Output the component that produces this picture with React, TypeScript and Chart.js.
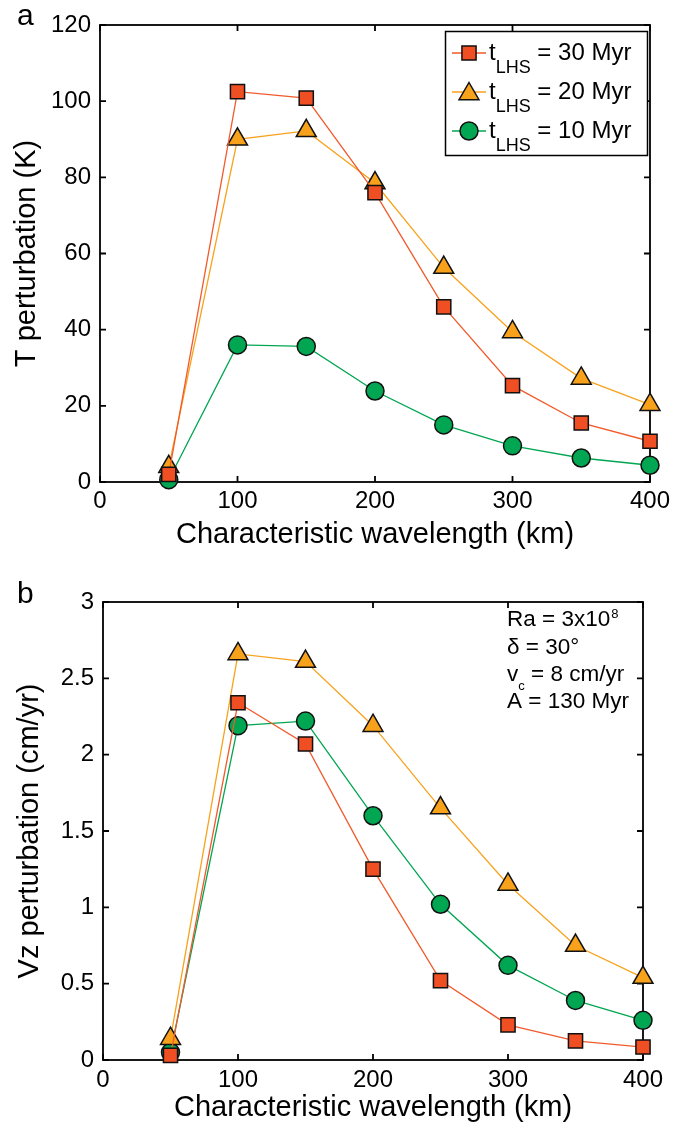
import React, { useEffect, useRef } from 'react';
import { Chart, registerables } from 'chart.js';

Chart.register(...registerables);

// ---------- data ----------
const wavelengthKm = [50, 100, 150, 200, 250, 300, 350, 400];

const tPert30 = [2, 102.5, 100.8, 76, 46, 25.3, 15.5, 10.7];
const tPert20 = [4, 90, 92.2, 78.5, 56.3, 39.4, 27.2, 20.3];
const tPert10 = [0.6, 36, 35.6, 23.9, 15, 9.5, 6.3, 4.4];

const vzPert30 = [0.03, 2.34, 2.07, 1.25, 0.52, 0.23, 0.125, 0.085];
const vzPert20 = [0.14, 2.66, 2.61, 2.19, 1.65, 1.15, 0.75, 0.54];
const vzPert10 = [0.05, 2.19, 2.22, 1.6, 1.02, 0.62, 0.39, 0.26];

const xTicks = [0, 100, 200, 300, 400];
const tempTicks = [0, 20, 40, 60, 80, 100, 120];
const vzTicks = [0, 0.5, 1, 1.5, 2, 2.5, 3];

const seriesAges = ['30 Myr', '20 Myr', '10 Myr'];
const xTitle = 'Characteristic wavelength (km)';
const tempTitle = 'T perturbation (K)';
const vzTitle = 'Vz perturbation (cm/yr)';

// ---------- styles ----------
const FONT = "'Liberation Sans', Arial, Helvetica, sans-serif";
const RED = '#F04E23';
const RED_LINE = '#F15A2B';
const ORANGE = '#F8A21C';
const GREEN = '#00A651';
const fills = [RED, ORANGE, GREEN];
const lineColors = [RED_LINE, ORANGE, GREEN];
const styles = ['rect', 'triangle', 'circle'];
const radii = [10, 11.5, 9];

function drawMarker(ctx: CanvasRenderingContext2D, style: string, x: number, y: number, fill: string) {
  ctx.save();
  ctx.fillStyle = fill;
  ctx.strokeStyle = '#111';
  ctx.lineWidth = 1.5;
  ctx.beginPath();
  if (style === 'rect') {
    const s = 10 * Math.SQRT1_2;
    ctx.rect(x - s, y - s, 2 * s, 2 * s);
  } else if (style === 'triangle') {
    const r = 11.5;
    ctx.moveTo(x, y - r);
    ctx.lineTo(x + 0.866 * r, y + r / 2);
    ctx.lineTo(x - 0.866 * r, y + r / 2);
    ctx.closePath();
  } else {
    ctx.arc(x, y, 9, 0, Math.PI * 2);
  }
  ctx.fill();
  ctx.stroke();
  ctx.restore();
}

const framePlugin = {
  id: 'frame',
  beforeDatasetsDraw(chart: any) {
    const { ctx, chartArea } = chart;
    const { left, right, top, bottom } = chartArea;
    const x = chart.scales.x;
    const y = chart.scales.y;
    ctx.save();
    ctx.strokeStyle = '#000';
    ctx.lineWidth = 1.8;
    ctx.strokeRect(left, top, right - left, bottom - top);
    ctx.beginPath();
    x.ticks.forEach((t: any) => {
      const px = x.getPixelForValue(t.value);
      ctx.moveTo(px, bottom);
      ctx.lineTo(px, bottom - 6);
      ctx.moveTo(px, top);
      ctx.lineTo(px, top + 6);
    });
    y.ticks.forEach((t: any) => {
      const py = y.getPixelForValue(t.value);
      ctx.moveTo(left, py);
      ctx.lineTo(left + 6, py);
      ctx.moveTo(right, py);
      ctx.lineTo(right - 6, py);
    });
    ctx.stroke();
    ctx.restore();
  },
};

function panelLabelPlugin(letter: string, baseline: number) {
  return {
    id: 'panelLabel' + letter,
    afterDraw(chart: any) {
      const ctx = chart.ctx;
      ctx.save();
      ctx.fillStyle = '#000';
      ctx.font = `30px ${FONT}`;
      ctx.textBaseline = 'alphabetic';
      ctx.textAlign = 'left';
      ctx.fillText(letter, 17, baseline);
      ctx.restore();
    },
  };
}

const legendPlugin = {
  id: 'customLegend',
  afterDraw(chart: any) {
    const ctx = chart.ctx as CanvasRenderingContext2D;
    ctx.save();
    ctx.fillStyle = '#fff';
    ctx.fillRect(445, 31, 203, 125);
    ctx.strokeStyle = '#000';
    ctx.lineWidth = 1.5;
    ctx.strokeRect(445.5, 31.5, 202, 124);
    seriesAges.forEach((age, i) => {
      const cy = 53 + i * 39;
      ctx.strokeStyle = lineColors[i];
      ctx.lineWidth = 1.3;
      ctx.beginPath();
      ctx.moveTo(452, cy);
      ctx.lineTo(486, cy);
      ctx.stroke();
      drawMarker(ctx, styles[i], 469, i === 1 ? cy + 2 : cy, fills[i]);
      ctx.fillStyle = '#000';
      ctx.textBaseline = 'alphabetic';
      ctx.textAlign = 'left';
      ctx.font = `24px ${FONT}`;
      const x0 = 489;
      ctx.fillText('t', x0, cy + 7);
      const w1 = ctx.measureText('t').width;
      ctx.font = `18px ${FONT}`;
      ctx.fillText('LHS', x0 + w1, cy + 20);
      const w2 = ctx.measureText('LHS').width;
      ctx.font = `24px ${FONT}`;
      ctx.fillText(' = ' + age, x0 + w1 + w2, cy + 7);
    });
    ctx.restore();
  },
};

const annotationPlugin = {
  id: 'params',
  afterDraw(chart: any) {
    const ctx = chart.ctx as CanvasRenderingContext2D;
    ctx.save();
    ctx.fillStyle = '#000';
    ctx.textBaseline = 'alphabetic';
    ctx.textAlign = 'left';
    const x0 = 507;
    const big = `22.5px ${FONT}`;
    const small = `13px ${FONT}`;
    // Ra = 3x10^8
    ctx.font = big;
    ctx.fillText('Ra = 3x10', x0, 60);
    let w = ctx.measureText('Ra = 3x10').width;
    ctx.font = small;
    ctx.fillText('8', x0 + w + 1, 52);
    // delta
    ctx.font = big;
    ctx.fillText('δ = 30°', x0, 88);
    // v_c
    ctx.fillText('v', x0, 115);
    w = ctx.measureText('v').width;
    ctx.font = small;
    ctx.fillText('c', x0 + w, 124);
    const w2 = ctx.measureText('c').width;
    ctx.font = big;
    ctx.fillText(' = 8 cm/yr', x0 + w + w2, 115);
    // A
    ctx.fillText('A = 130 Myr', x0, 142);
    ctx.restore();
  },
};

function makeConfig(opts: {
  s30: number[];
  s20: number[];
  s10: number[];
  yTicks: number[];
  yTitle: string;
  padding: { left: number; right: number; top: number; bottom: number };
  xAxisHeight: number;
  xTitlePad: number;
  xTickPad: number;
  extraPlugins: any[];
}) {
  const series = [opts.s30, opts.s20, opts.s10];
  const datasets = series.map((vals, i) => ({
    label: 't_LHS = ' + seriesAges[i],
    data: wavelengthKm.map((w, j) => ({ x: w, y: vals[j] })),
    borderColor: lineColors[i],
    borderWidth: 1.3,
    backgroundColor: fills[i],
    pointStyle: styles[i],
    pointRadius: radii[i],
    pointHoverRadius: radii[i],
    pointBackgroundColor: fills[i],
    pointBorderColor: '#111',
    pointBorderWidth: 1.5,
    tension: 0,
    clip: false,
    fill: false,
  }));
  const yMax = opts.yTicks[opts.yTicks.length - 1];
  return {
    type: 'line',
    data: { datasets },
    options: {
      animation: false,
      responsive: false,
      maintainAspectRatio: false,
      events: [],
      layout: { padding: opts.padding },
      plugins: { legend: { display: false }, tooltip: { enabled: false } },
      scales: {
        x: {
          type: 'linear',
          min: xTicks[0],
          max: xTicks[xTicks.length - 1],
          afterBuildTicks: (s: any) => {
            s.ticks = xTicks.map((v) => ({ value: v }));
          },
          afterFit: (s: any) => {
            s.height = opts.xAxisHeight;
          },
          grid: { display: false, drawTicks: false },
          border: { display: false },
          ticks: {
            color: '#000',
            padding: opts.xTickPad,
            font: { family: FONT, size: 24 },
            maxRotation: 0,
            callback: (v: any) => String(v),
          },
          title: {
            display: true,
            text: xTitle,
            color: '#000',
            font: { family: FONT, size: 29, lineHeight: 1.2 },
            padding: { top: 0, bottom: opts.xTitlePad },
          },
        },
        y: {
          type: 'linear',
          min: opts.yTicks[0],
          max: yMax,
          afterBuildTicks: (s: any) => {
            s.ticks = opts.yTicks.map((v) => ({ value: v }));
          },
          afterFit: (s: any) => {
            s.width = 100;
          },
          grid: { display: false, drawTicks: false },
          border: { display: false },
          ticks: {
            color: '#000',
            padding: 9,
            font: { family: FONT, size: 24 },
            callback: (v: any) => String(v),
          },
          title: {
            display: true,
            text: opts.yTitle,
            color: '#000',
            font: { family: FONT, size: 29, lineHeight: 1.2 },
            padding: { top: 10, bottom: 0 },
          },
        },
      },
    },
    plugins: [framePlugin, ...opts.extraPlugins],
  };
}

function ChartCanvas({ width, height, config }: { width: number; height: number; config: any }) {
  const ref = useRef<HTMLCanvasElement | null>(null);
  useEffect(() => {
    if (!ref.current) return;
    const chart = new Chart(ref.current, config);
    return () => chart.destroy();
  }, [config]);
  return <canvas ref={ref} width={width} height={height} style={{ display: 'block', width, height }} />;
}

const configA = makeConfig({
  s30: tPert30,
  s20: tPert20,
  s10: tPert10,
  yTicks: tempTicks,
  yTitle: tempTitle,
  padding: { left: 0, right: 35, top: 25, bottom: 0 },
  xAxisHeight: 84,
  xTitlePad: 13.5,
  xTickPad: 5,
  extraPlugins: [legendPlugin, panelLabelPlugin('a', 25)],
});

const configB = makeConfig({
  s30: vzPert30,
  s20: vzPert20,
  s10: vzPert10,
  yTicks: vzTicks,
  yTitle: vzTitle,
  padding: { left: 3, right: 42, top: 36, bottom: 0 },
  xAxisHeight: 71,
  xTitlePad: 6,
  xTickPad: 6,
  extraPlugins: [annotationPlugin, panelLabelPlugin('b', 37)],
});

export default function App() {
  return (
    <div style={{ position: 'absolute', left: 0, top: 0, width: 685, height: 1131, background: '#fff' }}>
      <ChartCanvas width={685} height={566} config={configA} />
      <ChartCanvas width={685} height={565} config={configB} />
    </div>
  );
}
